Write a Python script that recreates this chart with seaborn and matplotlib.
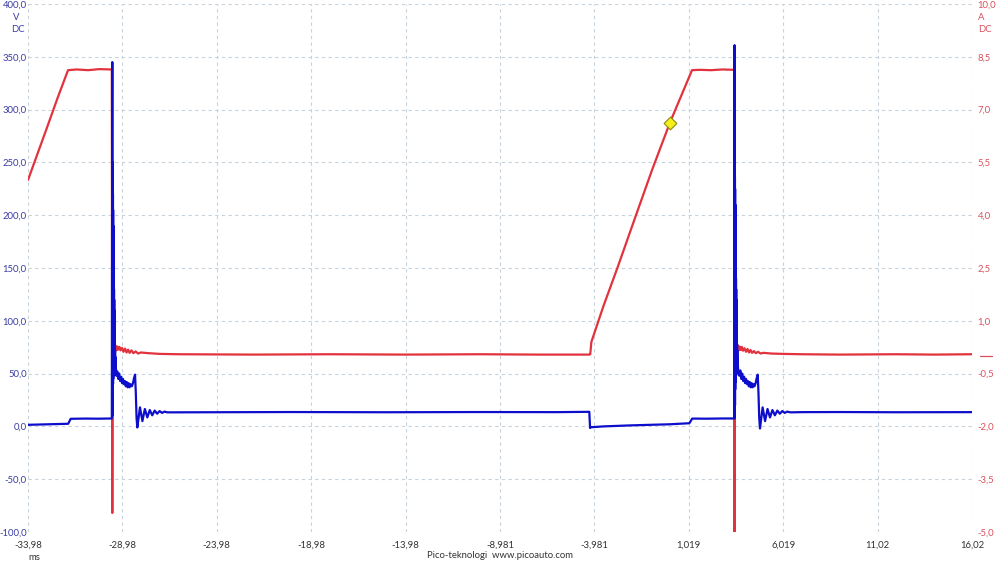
import matplotlib
matplotlib.use("Agg")
import matplotlib.pyplot as plt
import seaborn as sns
import pandas as pd
from matplotlib.transforms import blended_transform_factory
from matplotlib.lines import Line2D

# ---------------- data ----------------
# Channel A: voltage (V), time in ms
volt_t = [-33.98, -31.85, -31.78, -31.72, -31.0, -30.2, -29.54,
          -29.515, -29.505,
          -29.497, -29.493, -29.489, -29.485, -29.481, -29.477, -29.473, -29.469,
          -29.465, -29.461, -29.457, -29.453, -29.449, -29.445, -29.441, -29.437,
          -29.433, -29.429, -29.425, -29.421, -29.417, -29.413, -29.409, -29.405,
          -29.401, -29.397, -29.393, -29.389, -29.385, -29.381, -29.377, -29.373,
          -29.369, -29.365, -29.361, -29.357, -29.353, -29.349,
          -29.33, -29.30, -29.25, -29.20, -29.15, -29.10, -29.05, -29.00, -28.95,
          -28.90, -28.85, -28.80, -28.75, -28.70, -28.65, -28.60, -28.55, -28.48,
          -28.42, -28.36, -28.31, -28.27, -28.23, -28.19,
          -28.05, -27.92, -27.79, -27.66, -27.53, -27.40, -27.27, -27.14, -27.01,
          -26.88, -26.75, -26.6, -24.0, -20.0, -15.0, -10.0, -6.0, -4.25,
          -4.21, -4.16, -3.5, -2.0, 0.0, 1.05, 1.12, 1.20, 2.0, 2.8, 3.43,
          3.445, 3.455,
          3.463, 3.467, 3.471, 3.475, 3.479, 3.483, 3.487, 3.491,
          3.495, 3.499, 3.503, 3.507, 3.511, 3.515, 3.519, 3.523,
          3.527, 3.531, 3.535, 3.539, 3.543, 3.547, 3.551, 3.555,
          3.559, 3.563, 3.567, 3.571, 3.575, 3.579, 3.583, 3.587,
          3.591, 3.595, 3.599, 3.603,
          3.62, 3.65, 3.70, 3.75, 3.80, 3.85, 3.90, 3.95, 4.00, 4.05, 4.10,
          4.15, 4.20, 4.25, 4.30, 4.35, 4.40, 4.45, 4.50, 4.56,
          4.62, 4.67, 4.71, 4.75, 4.79,
          4.93, 5.06, 5.19, 5.32, 5.45, 5.58, 5.71, 5.84, 5.97,
          6.10, 6.23, 6.4, 7.0, 9.0, 12.0, 16.02]
volt_v = [1.5, 2.5, 5.0, 7.2, 7.4, 7.3, 7.5,
          345, 10,
          250, 20, 235, 35, 220, 40, 205, 45,
          190, 48, 175, 50, 160, 52, 150, 50,
          140, 53, 130, 51, 120, 54, 110, 52,
          100, 55, 92, 53, 85, 54, 78, 52,
          72, 53, 66, 51, 60, 52,
          58, 48, 52, 45, 50, 43, 47, 41, 45,
          40, 43, 38, 42, 37, 41, 37, 40, 38,
          41, 46, 49, 32, 8, -1,
          18, 5, 16.5, 8.5, 15.5, 10.5, 15, 12, 14.5,
          12.8, 14, 13.3, 13.4, 13.6, 13.4, 13.6, 13.5, 13.8,
          -1.5, -0.8, 0.0, 1.0, 2.0, 3.0, 5.0, 7.4, 7.3, 7.5, 7.5,
          361, 8,
          236, 20, 225, 35, 210, 42, 195, 46,
          180, 49, 165, 51, 150, 52, 140, 50,
          130, 54, 120, 52, 110, 55, 100, 53,
          92, 55, 85, 53, 78, 54, 72, 52,
          66, 53, 60, 52,
          58, 49, 48, 53, 45, 50, 43, 47, 41, 45, 40,
          43, 38, 42, 37, 41, 37, 40, 38, 41,
          46, 49, 32, 8, -2,
          18, 5, 16.5, 8.5, 15.5, 10.5, 15, 12, 14.5,
          12.8, 14, 13.3, 13.5, 13.6, 13.4, 13.5]

# Channel B: current (A), time in ms
curr_t = [-33.98, -33.0, -32.4, -31.86, -31.4, -30.8, -30.2, -29.54,
          -29.515, -29.50, -29.485, -29.47, -29.455,
          -29.42, -29.38, -29.34, -29.30, -29.25, -29.20, -29.14, -29.08,
          -29.00, -28.92, -28.84, -28.76, -28.68, -28.60, -28.50, -28.40,
          -28.28, -28.15, -28.0, -27.6, -27.0, -26.0, -22.0, -18.0, -14.0,
          -10.0, -7.0, -4.25,
          -4.20, -4.14, -3.5, -2.73, -1.83, -0.93,
          0.02, 1.19, 1.6, 2.2, 2.8, 3.43,
          3.445, 3.46, 3.475, 3.49, 3.505,
          3.54, 3.58, 3.62, 3.66, 3.71, 3.77, 3.83, 3.89,
          3.97, 4.05, 4.13, 4.21, 4.29, 4.37, 4.47, 4.57,
          4.69, 4.82, 4.97, 5.4, 6.0, 7.0, 9.0, 12.0, 14.0, 16.02]
curr_i = [5.0, 6.45, 7.35, 8.12, 8.14, 8.12, 8.15, 8.14,
          -4.46, 1.6, -0.6, 0.7, 0.25,
          0.31, 0.17, 0.29, 0.16, 0.27, 0.18, 0.26, 0.16,
          0.23, 0.12, 0.21, 0.10, 0.18, 0.09, 0.16, 0.08,
          0.13, 0.07, 0.10, 0.08, 0.06, 0.05, 0.04, 0.05, 0.04,
          0.05, 0.04, 0.04,
          0.05, 0.40, 1.42, 2.55, 3.92, 5.28,
          6.63, 8.12, 8.13, 8.12, 8.14, 8.13,
          -5.4, 1.3, -0.4, 0.6, 0.28,
          0.32, 0.18, 0.30, 0.16, 0.27, 0.17, 0.26, 0.15,
          0.22, 0.12, 0.20, 0.10, 0.17, 0.09, 0.14, 0.08,
          0.12, 0.07, 0.09, 0.07, 0.06, 0.05, 0.04, 0.05, 0.04, 0.05]

# trigger marker
trig_t = [0.0]
trig_i = [6.63]

x_ticks = [-33.98, -28.98, -23.98, -18.98, -13.98, -8.981, -3.981, 1.019, 6.019, 11.02, 16.02]
x_labels = ["-33,98", "-28,98", "-23,98", "-18,98", "-13,98", "-8,981", "-3,981",
            "1,019", "6,019", "11,02", "16,02"]
v_ticks = [400, 350, 300, 250, 200, 150, 100, 50, 0, -50, -100]
v_labels = ["400,0", "350,0", "300,0", "250,0", "200,0", "150,0", "100,0",
            "50,0", "0,0", "-50,0", "-100,0"]
i_ticks = [10.0, 8.5, 7.0, 5.5, 4.0, 2.5, 1.0, -0.5, -2.0, -3.5, -5.0]
i_labels = ["10,0", "8,5", "7,0", "5,5", "4,0", "2,5", "1,0", "-0,5", "-2,0", "-3,5", "-5,0"]

# ---------------- styling ----------------
sns.set_style("white")
plt.rcParams['font.family'] = ['Lato', 'DejaVu Sans']
FS = 6.8

BLUE = "#0d0dcc"
RED = "#e2323e"
BLUE_TXT = "#3a3aa6"
RED_TXT = "#d8505c"
GRID = "#c7d2db"

df_v = pd.DataFrame({"t": volt_t, "v": volt_v})
df_i = pd.DataFrame({"t": curr_t, "i": curr_i})
df_m = pd.DataFrame({"t": trig_t, "i": trig_i})

fig = plt.figure(figsize=(10, 5.63), dpi=100)
ax = fig.add_axes([0.028, 31 / 563, 0.944, 528 / 563])   # current (red), ticks on the right
ax2 = ax.twinx()                                           # voltage (blue), ticks on the left

sns.lineplot(data=df_i, x="t", y="i", ax=ax, color=RED, lw=1.6,
             estimator=None, sort=False, legend=False)
sns.scatterplot(data=df_m, x="t", y="i", ax=ax, marker="D", s=42,
                color="#f5ef1a", edgecolor="#8c8a10", linewidth=0.8, zorder=5, legend=False)
sns.lineplot(data=df_v, x="t", y="v", ax=ax2, color=BLUE, lw=1.6,
             estimator=None, sort=False, legend=False)

ax.set_xlim(x_ticks[0], x_ticks[-1])
ax.set_ylim(-5.0, 10.0)
ax2.set_ylim(-100, 400)

ax.set_xticks(x_ticks)
ax.set_xticklabels(x_labels)
ax.set_yticks(i_ticks)
ax.set_yticklabels(i_labels)
ax2.set_yticks(v_ticks)
ax2.set_yticklabels(v_labels)

ax.yaxis.tick_right()
ax2.yaxis.tick_left()

for a in (ax, ax2):
    for s in a.spines.values():
        s.set_visible(False)
    a.set_xlabel("")
    a.set_ylabel("")

ax.grid(True, which="major", axis="both", color=GRID, ls=(0, (3, 3)), lw=0.8)
ax2.grid(False)

ax.tick_params(axis="x", length=0, pad=6, labelsize=FS, labelcolor="#333333")
ax.tick_params(axis="y", length=0, pad=4, labelsize=FS, labelcolor=RED_TXT)
ax2.tick_params(axis="y", length=0, pad=1, labelsize=FS, labelcolor=BLUE_TXT)

# unit captions
fig.text(16 / 1000, 1 - 17 / 563, "V", color=BLUE_TXT, fontsize=FS, ha="center", va="center")
fig.text(18 / 1000, 1 - 29 / 563, "DC", color=BLUE_TXT, fontsize=FS, ha="center", va="center")
fig.text(981 / 1000, 1 - 17 / 563, "A", color=RED_TXT, fontsize=FS, ha="center", va="center")
fig.text(985 / 1000, 1 - 29 / 563, "DC", color=RED_TXT, fontsize=FS, ha="center", va="center")
fig.text(34 / 1000, 1 - 557 / 563, "ms", color="#333333", fontsize=FS, ha="center", va="center")
fig.text(500 / 1000, 1 - 556 / 563, "Pico-teknologi  www.picoauto.com", color="#333333",
         fontsize=FS, ha="center", va="center")

# zero-level indicator for the current channel
tr = blended_transform_factory(ax.transAxes, ax.transData)
ax.add_line(Line2D([1.008, 1.021], [0.0, 0.0], transform=tr, color=RED_TXT, lw=0.9, clip_on=False))

fig.savefig("out.png", dpi=100)
